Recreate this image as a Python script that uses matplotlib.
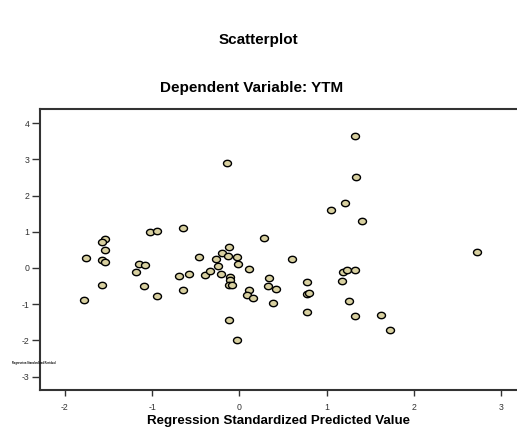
import matplotlib
matplotlib.use( 'Agg' )
import matplotlib.pyplot as plt
import numpy as np
from matplotlib.path import Path

# points (predicted vs residual, standardized)
pred = [ -1.78 , -1.76 , -1.54 , -1.58 , -1.54 , -1.58 , -1.54 , -1.58 , -1.02 , -0.94 ,
         -1.15 , -1.08 , -1.18 , -1.09 , -0.95 , -0.65 , -0.46 , -0.69 , -0.58 , -0.65 ,
         -0.39 , -0.34 , -0.27 , -0.25 , -0.20 , -0.12 , -0.13 , -0.03 , -0.02 , -0.21 ,
         -0.11 , -0.11 , -0.12 , -0.08 , 0.11 , 0.28 , 0.11 , 0.09 , 0.15 , 0.34 ,
         0.33 , 0.42 , 0.39 , 0.60 , 0.77 , 0.77 , 0.80 , 0.77 , -0.12 , -0.03 ,
         1.19 , 1.23 , 1.32 , 1.18 , 1.25 , 1.32 , 1.62 , 1.72 , 2.72 , -0.14 ,
         1.32 , 1.33 , 1.21 , 1.05 , 1.40 ]
resid = [ -0.89 , 0.27 , 0.79 , 0.72 , 0.50 , 0.22 , 0.17 , -0.46 , 0.98 , 1.02 ,
          0.10 , 0.08 , -0.11 , -0.49 , -0.77 , 1.10 , 0.31 , -0.21 , -0.17 , -0.61 ,
          -0.20 , -0.08 , 0.24 , 0.05 , 0.40 , 0.58 , 0.32 , 0.30 , 0.11 , -0.17 ,
          -0.26 , -0.33 , -0.48 , -0.48 , -0.03 , 0.82 , -0.61 , -0.75 , -0.82 , -0.27 ,
          -0.51 , -0.59 , -0.96 , 0.24 , -0.38 , -0.72 , -0.68 , -1.22 , -1.43 , -2.00 ,
          -0.12 , -0.06 , -0.05 , -0.35 , -0.92 , -1.34 , -1.29 , -1.72 , 0.43 , 2.89 ,
          3.65 , 2.52 , 1.80 , 1.59 , 1.30 ]
xticks = [ -2 , -1 , 0 , 1 , 2 , 3 ]
yticks = [ -3 , -2 , -1 , 0 , 1 , 2 , 3 , 4 ]

plt.rcParams['font.family'] = ['Liberation Sans' , 'DejaVu Sans']
plt.rcParams['axes.unicode_minus'] = False

# slightly flattened circle for the markers
t = np.linspace( 0 , 2 * np.pi , 40 )
ell = Path( np.column_stack( [ np.cos( t ) , 0.8 * np.sin( t ) ] ) , closed = True )

fig = plt.figure( figsize = ( 5.17 , 4.30 ) , dpi = 100 )
ax = fig.add_axes( [ 40 / 517 , 1 - 390 / 430 , 1 - 40 / 517 , ( 390 - 109 ) / 430 ] )

ax.scatter( pred , resid , s = 33 , marker = ell , facecolor = '#d8d0a0' , edgecolor = 'black' , linewidth = 1.0 , zorder = 3 )

ax.set_xlim( -2.285 , 3.18 )
ax.set_ylim( -3.37 , 4.39 )
ax.set_xticks( xticks )
ax.set_yticks( yticks )
ax.tick_params( axis = 'y' , length = 6 , width = 1 , pad = 1.5 , labelsize = 6.3 , colors = '#333333' )
ax.tick_params( axis = 'x' , length = 4 , width = 1 , pad = 5 , labelsize = 6.3 , colors = '#333333' )
ax.spines['right'].set_visible( False )
for s in [ 'left' , 'top' , 'bottom' ]:
    ax.spines[s].set_linewidth( 1.5 )
    ax.spines[s].set_color( '#333333' )

ax.set_xlabel( 'Regression Standardized Predicted Value' , fontsize = 9.6 , fontweight = 'bold' , labelpad = 2.5 )
fig.text( 258 / 517 , 1 - 40 / 430 , 'Scatterplot' , ha = 'center' , va = 'center' , fontsize = 11 , fontweight = 'bold' )
fig.text( 252 / 517 , 1 - 88 / 430 , 'Dependent Variable: YTM' , ha = 'center' , va = 'center' , fontsize = 11 , fontweight = 'bold' )
# the y label in the original is rendered tiny and horizontal
fig.text( 12 / 517 , 1 - 363 / 430 , 'Regression Standardized Residual' , ha = 'left' , va = 'center' , fontsize = 1.9 , fontweight = 'bold' )

fig.savefig( 'out.png' , dpi = 100 )
